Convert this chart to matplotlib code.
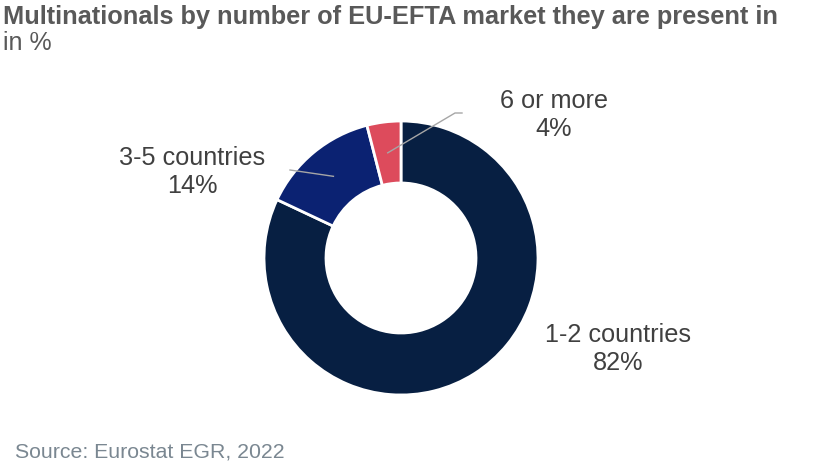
import matplotlib
matplotlib.use("Agg")
import matplotlib.pyplot as plt
import numpy as np

categories = ["1-2 countries", "3-5 countries", "6 or more"]
values = [82, 14, 4]
colors = ["#071f42", "#0b2272", "#dd4b5c"]

title = "Multinationals by number of EU-EFTA market they are present in"
subtitle = "in %"
source = "Source: Eurostat EGR, 2022"

W, H = 816, 474
fig = plt.figure(figsize=(W / 100, H / 100), dpi=100)
ax = fig.add_axes([0, 0, 1, 1])

body_font = "Liberation Sans"

cx, cy = 401, 216
R_out, R_in = 137, 75
wedges, _ = ax.pie(values, colors=colors, startangle=90, counterclock=False,
                   center=(cx, cy), radius=R_out, frame=True,
                   wedgeprops=dict(width=R_out - R_in, edgecolor="white", linewidth=2))
ax.set_xlim(0, W)
ax.set_ylim(0, H)
ax.set_aspect("equal")
ax.axis("off")

label_pos = [(618, 125), (192, 302), (554, 359)]
elbows = [None, (290, 304), (455, 361)]
ends = [None, None, (462, 361)]
Rm = (R_out + R_in) / 2
for w, cat, v, (lx, ly), el, en in zip(wedges, categories, values, label_pos, elbows, ends):
    ax.text(lx, ly, f"{cat}\n{v}%", ha="center", va="center", fontsize=18.2,
            color="#404040", family=body_font, linespacing=1.25)
    if el is not None:
        ang = np.deg2rad((w.theta1 + w.theta2) / 2)
        sx, sy = cx + Rm * np.cos(ang), cy + Rm * np.sin(ang)
        xs, ys = [sx, el[0]], [sy, el[1]]
        if en is not None:
            xs.append(en[0]); ys.append(en[1])
        ax.plot(xs, ys, color="#a6a6a6", linewidth=1)

fig.text(3 / W, 1 - 5 / H, title, ha="left", va="top", fontsize=18.3, fontweight="bold",
         color="#595959", family=body_font)
fig.text(3 / W, 1 - 31 / H, subtitle, ha="left", va="top", fontsize=18,
         color="#595959", family=body_font)
fig.text(15 / W, 1 - 452 / H, source, ha="left", va="center", fontsize=15.3,
         color="#7a8791", family=body_font)

fig.savefig("out.png", dpi=100)
